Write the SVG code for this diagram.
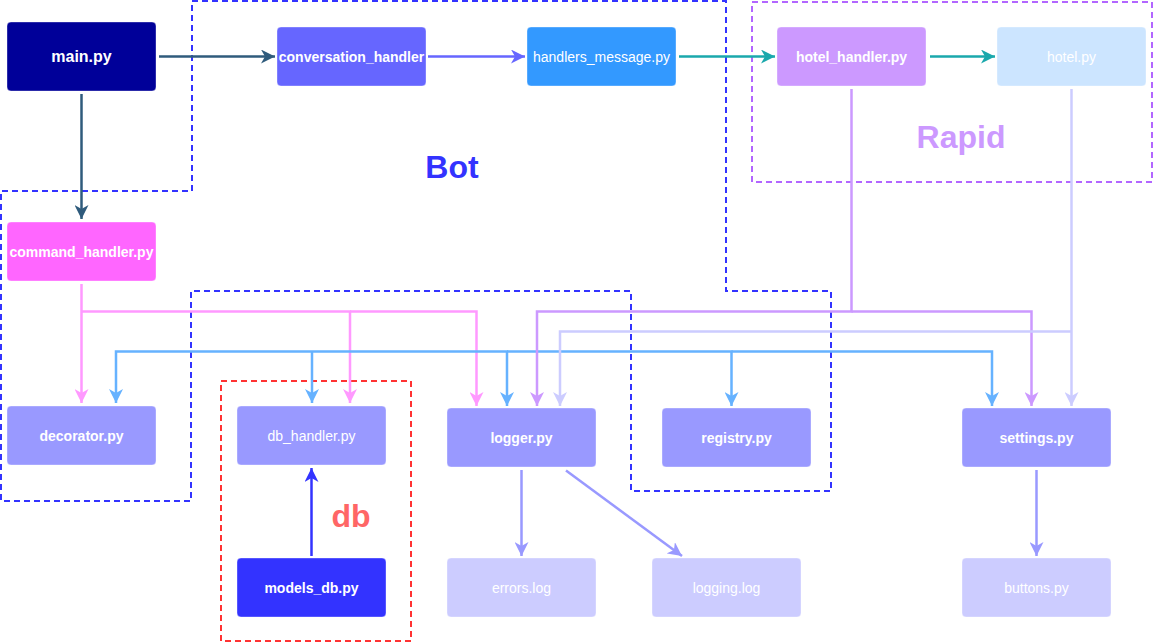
<svg xmlns="http://www.w3.org/2000/svg" width="1154" height="644" viewBox="0 0 1154 644">
<style>
.n rect{stroke:#ffffff;stroke-opacity:0.35;stroke-width:1}
.n text{font-family:"Liberation Sans",Arial,sans-serif;fill:#ffffff;text-anchor:middle;font-size:14px}
.b text{font-weight:bold}
.c path{fill:none;stroke-width:2.5}
.grp{fill:none;stroke-width:2;stroke-dasharray:6 4}
.lbl{font-family:"Liberation Sans",Arial,sans-serif;font-weight:bold;font-size:32px;text-anchor:middle}
</style>
<defs>
<marker id="aNavy" viewBox="0 0 14 14" refX="14" refY="7" markerWidth="14" markerHeight="14" markerUnits="userSpaceOnUse" orient="auto"><path d="M0,0L14,7L0,14L4,7Z" fill="#2F5B7C"/></marker>
<marker id="aPurp" viewBox="0 0 14 14" refX="14" refY="7" markerWidth="14" markerHeight="14" markerUnits="userSpaceOnUse" orient="auto"><path d="M0,0L14,7L0,14L4,7Z" fill="#6666FF"/></marker>
<marker id="aTeal" viewBox="0 0 14 14" refX="14" refY="7" markerWidth="14" markerHeight="14" markerUnits="userSpaceOnUse" orient="auto"><path d="M0,0L14,7L0,14L4,7Z" fill="#1AA8AC"/></marker>
<marker id="aPink" viewBox="0 0 14 14" refX="14" refY="7" markerWidth="14" markerHeight="14" markerUnits="userSpaceOnUse" orient="auto"><path d="M0,0L14,7L0,14L4,7Z" fill="#FF99FF"/></marker>
<marker id="aBlue" viewBox="0 0 14 14" refX="14" refY="7" markerWidth="14" markerHeight="14" markerUnits="userSpaceOnUse" orient="auto"><path d="M0,0L14,7L0,14L4,7Z" fill="#66B2FF"/></marker>
<marker id="aVio" viewBox="0 0 14 14" refX="14" refY="7" markerWidth="14" markerHeight="14" markerUnits="userSpaceOnUse" orient="auto"><path d="M0,0L14,7L0,14L4,7Z" fill="#CC99FF"/></marker>
<marker id="aLav" viewBox="0 0 14 14" refX="14" refY="7" markerWidth="14" markerHeight="14" markerUnits="userSpaceOnUse" orient="auto"><path d="M0,0L14,7L0,14L4,7Z" fill="#CCCCFF"/></marker>
<marker id="aMid" viewBox="0 0 14 14" refX="14" refY="7" markerWidth="14" markerHeight="14" markerUnits="userSpaceOnUse" orient="auto"><path d="M0,0L14,7L0,14L4,7Z" fill="#9999FF"/></marker>
<marker id="aDeep" viewBox="0 0 14 14" refX="14" refY="7" markerWidth="14" markerHeight="14" markerUnits="userSpaceOnUse" orient="auto"><path d="M0,0L14,7L0,14L4,7Z" fill="#3333FF"/></marker>
</defs>
<rect width="1154" height="644" fill="#ffffff"/>

<g id="groups">
<path class="grp" stroke="#3333FF" d="M192,1H726V291H831V491H631V291H191V501H1V191H192Z"/>
<rect class="grp" stroke="#B266FF" x="752" y="2" width="400" height="180"/>
<rect class="grp" stroke="#FF3333" x="221" y="381" width="190" height="260"/>
<text class="lbl" x="452" y="178" fill="#3333FF">Bot</text>
<text class="lbl" x="961" y="148" fill="#CC99FF">Rapid</text>
<text class="lbl" x="351" y="527" fill="#FF6666">db</text>
</g>

<g id="connectors" class="c">
<path stroke="#2F5B7C" d="M159,56.5H275" marker-end="url(#aNavy)"/>
<path stroke="#2F5B7C" d="M81.5,94V219" marker-end="url(#aNavy)"/>
<path stroke="#6666FF" d="M428,56.5H525" marker-end="url(#aPurp)"/>
<path stroke="#1AA8AC" d="M679,56.5H775" marker-end="url(#aTeal)"/>
<path stroke="#1AA8AC" d="M930,56.5H995" marker-end="url(#aTeal)"/>
<path stroke="#FF99FF" d="M81.5,284V403" marker-end="url(#aPink)"/>
<path stroke="#FF99FF" d="M81.5,311.5H350V403" marker-end="url(#aPink)"/>
<path stroke="#FF99FF" d="M350,311.5H476.5V406" marker-end="url(#aPink)"/>
<path stroke="#66B2FF" d="M312,351.5H116V403" marker-end="url(#aBlue)"/>
<path stroke="#66B2FF" d="M312,351.5V403" marker-end="url(#aBlue)"/>
<path stroke="#66B2FF" d="M312,351.5H507V406" marker-end="url(#aBlue)"/>
<path stroke="#66B2FF" d="M507,351.5H731.5V406" marker-end="url(#aBlue)"/>
<path stroke="#66B2FF" d="M731.5,351.5H992V406" marker-end="url(#aBlue)"/>
<path stroke="#CC99FF" d="M851.5,89V311.5H537V406" marker-end="url(#aVio)"/>
<path stroke="#CC99FF" d="M851.5,311.5H1031.5V406" marker-end="url(#aVio)"/>
<path stroke="#CCCCFF" d="M1071.5,89V406" marker-end="url(#aLav)"/>
<path stroke="#CCCCFF" d="M1071.5,331.5H560V406" marker-end="url(#aLav)"/>
<path stroke="#9999FF" d="M521.5,470V556" marker-end="url(#aMid)"/>
<path stroke="#9999FF" d="M566,470.5L682,556" marker-end="url(#aMid)"/>
<path stroke="#9999FF" d="M1036.5,470V556" marker-end="url(#aMid)"/>
<path stroke="#3333FF" d="M311.5,556V468" marker-end="url(#aDeep)"/>
</g>

<g id="main" class="n b"><rect x="7" y="22" width="149" height="69" rx="4" fill="#000099"/><text x="81.5" y="62" style="font-size:16px">main.py</text></g>
<g id="conversation_handler" class="n b"><rect x="277" y="27" width="149" height="59" rx="4" fill="#6666FF"/><text x="351.5" y="61.5">conversation_handler</text></g>
<g id="handlers_message" class="n"><rect x="527" y="27" width="149" height="59" rx="4" fill="#3399FF"/><text x="601.5" y="61.5">handlers_message.py</text></g>
<g id="hotel_handler" class="n b"><rect x="777" y="27" width="149" height="59" rx="4" fill="#CC99FF"/><text x="851.5" y="61.5">hotel_handler.py</text></g>
<g id="hotel" class="n"><rect x="997" y="27" width="149" height="59" rx="4" fill="#CCE5FF"/><text x="1071.5" y="61.5">hotel.py</text></g>
<g id="command_handler" class="n b"><rect x="7" y="222" width="149" height="59" rx="4" fill="#FF66FF"/><text x="81.5" y="256.5">command_handler.py</text></g>
<g id="decorator" class="n b"><rect x="7" y="406" width="149" height="59" rx="4" fill="#9999FF"/><text x="81.5" y="440.5">decorator.py</text></g>
<g id="db_handler" class="n"><rect x="237" y="406" width="149" height="59" rx="4" fill="#9999FF"/><text x="311.5" y="440.5">db_handler.py</text></g>
<g id="logger" class="n b"><rect x="447" y="408" width="149" height="59" rx="4" fill="#9999FF"/><text x="521.5" y="442.5">logger.py</text></g>
<g id="registry" class="n b"><rect x="662" y="408" width="149" height="59" rx="4" fill="#9999FF"/><text x="736.5" y="442.5">registry.py</text></g>
<g id="settings" class="n b"><rect x="962" y="408" width="149" height="59" rx="4" fill="#9999FF"/><text x="1036.5" y="442.5">settings.py</text></g>
<g id="models_db" class="n b"><rect x="237" y="558" width="149" height="59" rx="4" fill="#3333FF"/><text x="311.5" y="592.5">models_db.py</text></g>
<g id="errors_log" class="n"><rect x="447" y="558" width="149" height="59" rx="4" fill="#CCCCFF"/><text x="521.5" y="592.5">errors.log</text></g>
<g id="logging_log" class="n"><rect x="652" y="558" width="149" height="59" rx="4" fill="#CCCCFF"/><text x="726.5" y="592.5">logging.log</text></g>
<g id="buttons" class="n"><rect x="962" y="558" width="149" height="59" rx="4" fill="#CCCCFF"/><text x="1036.5" y="592.5">buttons.py</text></g>
</svg>
